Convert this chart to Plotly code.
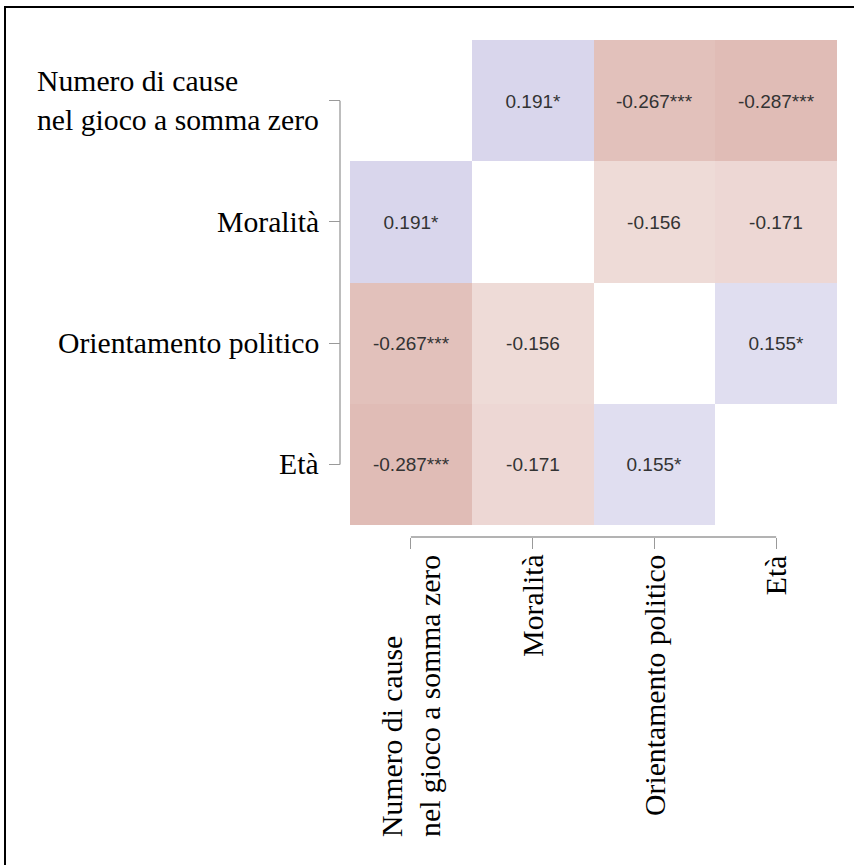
import plotly.graph_objects as go

# ---- data ----
variables = ["Numero di cause<br>nel gioco a somma zero", "Moralità", "Orientamento politico", "Età"]
corr = [
    [None, 0.191, -0.267, -0.287],
    [0.191, None, -0.156, -0.171],
    [-0.267, -0.156, None, 0.155],
    [-0.287, -0.171, 0.155, None],
]
stars = [
    ["", "*", "***", "***"],
    ["*", "", "", ""],
    ["***", "", "", "*"],
    ["***", "", "*", ""],
]

idx = list(range(len(variables)))
text = [[("" if v is None else f"{v:.3f}{s}") for v, s in zip(rv, rs)] for rv, rs in zip(corr, stars)]

W, H = 854, 865
ml, mr, mt, mb = 340, 17, 40, 328
pw, ph = W - ml - mr, H - mt - mb
gap_x, gap_y = 10, 12
axis_col = "#9a9a9a"

fig = go.Figure(go.Heatmap(
    x=idx, y=idx, z=corr, text=text, texttemplate="%{text}",
    textfont=dict(family="Liberation Sans, Arial, sans-serif", size=19, color="#333333"),
    zmin=-1, zmax=1, showscale=False, hoverinfo="skip",
    colorscale=[[0, "rgb(147,22,1)"], [0.5, "rgb(255,255,255)"], [1, "rgb(56,40,156)"]],
))

label_font = dict(family="Liberation Serif, Times New Roman, serif", size=29.7, color="black")

fig.update_layout(
    width=W, height=H,
    margin=dict(l=ml, r=mr, t=mt, b=mb, pad=0),
    paper_bgcolor="white", plot_bgcolor="white",
    xaxis=dict(domain=[gap_x / pw, 1], range=[-0.5, 3.5], anchor="free", position=0,
               tickvals=idx, showticklabels=False, ticks="outside", ticklen=11,
               tickcolor=axis_col, tickwidth=1.3, showgrid=False, zeroline=False, showline=False),
    yaxis=dict(domain=[gap_y / ph, 1], range=[3.5, -0.5], anchor="free", position=0,
               tickvals=idx, showticklabels=False, ticks="outside", ticklen=11,
               tickcolor=axis_col, tickwidth=1.3, showgrid=False, zeroline=False, showline=False),
)

shapes = [
    dict(type="line", xref="x", yref="paper", x0=idx[0], x1=idx[-1], y0=0, y1=0,
         line=dict(color=axis_col, width=1.3)),
    dict(type="line", xref="paper", yref="y", x0=0, x1=0, y0=idx[0], y1=idx[-1],
         line=dict(color=axis_col, width=1.3)),
    dict(type="rect", xref="paper", yref="paper",
         x0=(5 - ml) / pw, x1=(880 - ml) / pw,
         y0=-(H + 20 - (H - mb)) / ph, y1=(H - mb - 7) / ph,
         line=dict(color="black", width=2), fillcolor="rgba(0,0,0,0)"),
]
fig.update_layout(shapes=shapes)

annotations = []
for i, name in zip(idx, variables):
    annotations.append(dict(xref="paper", yref="y", x=0, y=i, xanchor="right", yanchor="middle",
                            xshift=-19, text=name, showarrow=False, align="left", font=label_font))
    annotations.append(dict(xref="x", yref="paper", x=i, y=0, xanchor="center", yanchor="top",
                            yshift=-16, text=name, showarrow=False, align="left", textangle=-90,
                            font=label_font))
fig.update_layout(annotations=annotations)

fig.write_html("out.html", config={"displayModeBar": False},
               post_script="document.body.style.margin='0';document.body.style.overflow='hidden';")
